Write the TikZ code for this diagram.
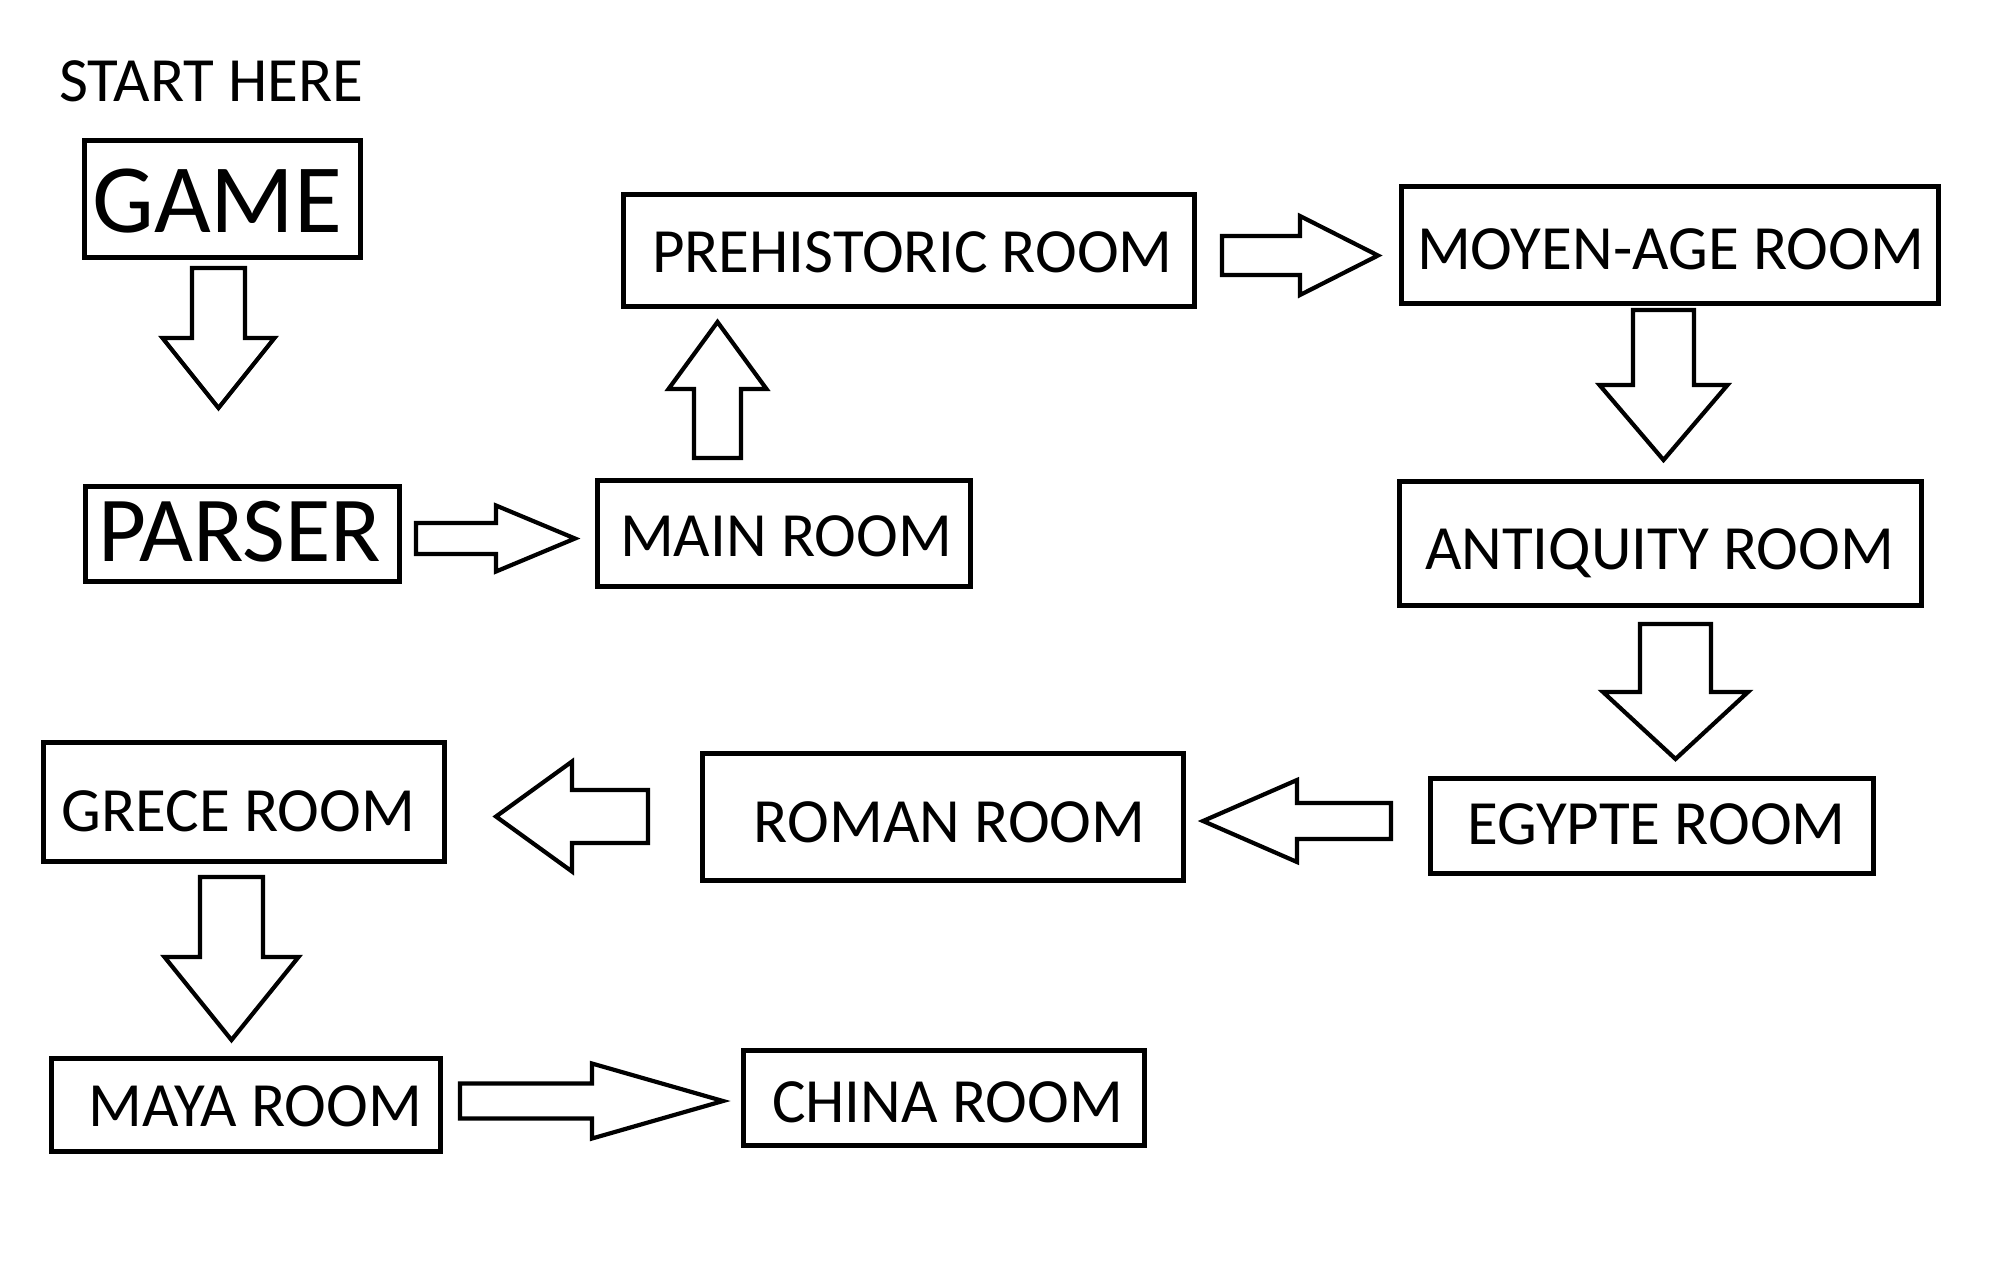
\documentclass[tikz,border=0pt]{standalone}
\usepackage{fontspec}
\setmainfont{Carlito}
\usetikzlibrary{calc}
\tikzset{
  box/.style={draw, rectangle, line width=5pt, inner sep=0pt},
  lbl/.style={inner sep=0pt, text depth=0pt, text height=39.8pt, font=\fontsize{63}{70}\selectfont},
  lblbig/.style={inner sep=0pt, text depth=0pt, text height=61.9pt, font=\fontsize{98}{110}\selectfont},
  lblparser/.style={inner sep=0pt, text depth=0pt, text height=59pt, font=\fontsize{93}{104}\selectfont},
  barr/.style={draw, line width=4.2pt, line join=miter, fill=white}
}
% block arrow: start, tip, shaft half width, head half width, head length
\newcommand{\blockarr}[5]{%
  \coordinate (hb) at ($(#2)!#5pt!(#1)$);
  \draw[barr] ($(#1)!#3pt!90:(#2)$) -- ($(hb)!#3pt!90:(#2)$) -- ($(hb)!#4pt!90:(#2)$) -- (#2)
    -- ($(hb)!#4pt!-90:(#2)$) -- ($(hb)!#3pt!-90:(#2)$) -- ($(#1)!#3pt!-90:(#2)$) -- cycle;
}
\begin{document}
\begin{tikzpicture}[x=1pt, y=-1pt]
\useasboundingbox[fill=white] (0,0) rectangle (2012,1275);

% text and boxes
\node[lbl] (startT) at (211.5,81.5) {START HERE};

\node[box, minimum width=276pt, minimum height=117pt] (game) at (222,198.5) {};
\node[lblbig] (gameT) at (217.5,201.5) {GAME};

\node[box, minimum width=314pt, minimum height=95pt] (parser) at (242.5,534) {};
\node[lblparser] (parserT) at (239.5,532) {PARSER};

\node[box, minimum width=373pt, minimum height=106pt] (main) at (783.5,533) {};
\node[lbl] (mainT) at (786,537) {MAIN ROOM};

\node[box, minimum width=571pt, minimum height=112pt] (pre) at (908.5,250) {};
\node[lbl] (preT) at (912.5,253) {PREHISTORIC ROOM};

\node[box, minimum width=537pt, minimum height=117pt] (moyen) at (1669.5,244.5) {};
\node[lbl] (moyenT) at (1670.5,249.5) {MOYEN-AGE ROOM};

\node[box, minimum width=522pt, minimum height=124pt] (anti) at (1660,543) {};
\node[lbl] (antiT) at (1659.5,550) {ANTIQUITY ROOM};

\node[box, minimum width=443pt, minimum height=95pt] (egypte) at (1651.5,825.5) {};
\node[lbl] (egypteT) at (1656.5,824.5) {EGYPTE ROOM};

\node[box, minimum width=481pt, minimum height=127pt] (roman) at (942.5,816.5) {};
\node[lbl] (romanT) at (949.5,822.5) {ROMAN ROOM};

\node[box, minimum width=401pt, minimum height=119pt] (grece) at (243.5,801.5) {};
\node[lbl] (greceT) at (238.5,811.5) {GRECE ROOM};

\node[box, minimum width=389pt, minimum height=93pt] (maya) at (245.5,1104.5) {};
\node[lbl] (mayaT) at (255.5,1106.5) {MAYA ROOM};

\node[box, minimum width=401pt, minimum height=95pt] (china) at (943.5,1097.5) {};
\node[lbl] (chinaT) at (947.5,1103) {CHINA ROOM};

% arrow end points
\coordinate (a1s) at (218.5,268);   \coordinate (a1t) at (218.5,408);
\coordinate (a2s) at (416,538.5);   \coordinate (a2t) at (575,538.5);
\coordinate (a3s) at (717.5,458);   \coordinate (a3t) at (717.5,322);
\coordinate (a4s) at (1222,255.5);  \coordinate (a4t) at (1378,255.5);
\coordinate (a5s) at (1663.5,310);  \coordinate (a5t) at (1663.5,460);
\coordinate (a6s) at (1675.5,624);  \coordinate (a6t) at (1675.5,759);
\coordinate (a7s) at (1391,821);    \coordinate (a7t) at (1203,821);
\coordinate (a8s) at (648,816.5);   \coordinate (a8t) at (496,816.5);
\coordinate (a9s) at (231.5,877);   \coordinate (a9t) at (231.5,1040);
\coordinate (a10s) at (460,1101);   \coordinate (a10t) at (723,1101);

% block arrows
\blockarr{a1s}{a1t}{26.5}{56}{70}
\blockarr{a2s}{a2t}{15.5}{33}{79}
\blockarr{a3s}{a3t}{23.5}{49}{67}
\blockarr{a4s}{a4t}{19.5}{39.5}{78}
\blockarr{a5s}{a5t}{30.5}{64}{75}
\blockarr{a6s}{a6t}{35.5}{72.5}{67}
\blockarr{a7s}{a7t}{18}{41}{94}
\blockarr{a8s}{a8t}{26.5}{55}{76}
\blockarr{a9s}{a9t}{31.5}{67}{83}
\blockarr{a10s}{a10t}{17.5}{37.5}{131}
\end{tikzpicture}
\end{document}
